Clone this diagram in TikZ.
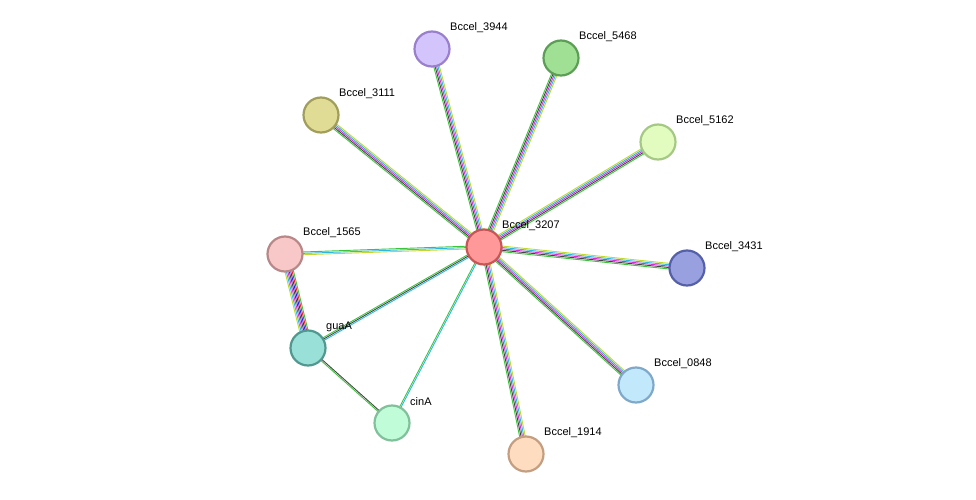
\documentclass[tikz,border=0pt]{standalone}
\usepackage{fontspec}
\setmainfont{Liberation Sans}
\usetikzlibrary{calc}
\definecolor{eG}{HTML}{3CC43C}
\definecolor{eK}{HTML}{444444}
\definecolor{eM}{HTML}{D62DD6}
\definecolor{eC}{HTML}{2DB8E0}
\definecolor{eY}{HTML}{C0D830}
\definecolor{eR}{HTML}{F02020}
\definecolor{eB}{HTML}{2020F0}
\newcommand{\stredge}[3]{%
  \foreach \col [count=\i] in {#3} {\xdef\ncol{\i}}%
  \foreach \col [count=\i] in {#3} {%
    \pgfmathsetmacro{\off}{(\i-(\ncol+1)/2)*1.4}%
    \draw[line width=0.9pt,draw=\col] ($(#1)!\off pt!90:(#2)$) -- ($(#2)!\off pt!-90:(#1)$);}}
\begin{document}
\begin{tikzpicture}[x=1pt,y=-1pt,
  prot/.style={circle,minimum size=35pt,inner sep=0pt,line width=2.2pt},
  lab/.style={anchor=west,font=\fontsize{11}{12}\selectfont,inner sep=0pt}]
\useasboundingbox (0,0) rectangle (976,500);
\coordinate (p3207) at (484,247);
\coordinate (p3944) at (432,49);
\coordinate (p5468) at (561,58);
\coordinate (p3111) at (321,115);
\coordinate (p5162) at (658,142);
\coordinate (p3431) at (687,268);
\coordinate (p0848) at (636,385);
\coordinate (p1914) at (526,454);
\coordinate (pcin) at (392,423);
\coordinate (pgua) at (308,348);
\coordinate (p1565) at (285,254);
\stredge{p3944}{p3207}{eG,eK,eM,eC,eY}
\stredge{p5468}{p3207}{eG,eK,eM,eC,eY}
\stredge{p3111}{p3207}{eG,eK,eM,eC,eY}
\stredge{p3207}{p5162}{eG,eK,eM,eC,eY}
\stredge{p3207}{p3431}{eG,eK,eM,eC,eY}
\stredge{p3207}{p0848}{eG,eK,eM,eC,eY}
\stredge{p3207}{p1914}{eG,eK,eM,eC,eY}
\stredge{p3207}{p1565}{eG,eC,eY}
\stredge{p3207}{pgua}{eG,eK,eC}
\stredge{p3207}{pcin}{eG,eC}
\stredge{p1565}{pgua}{eY,eC,eM,eK,eB,eR,eG}
\stredge{pgua}{pcin}{eG,eK}
\node[prot,fill={rgb,255:red,255;green,153;blue,153},draw={rgb,255:red,200;green,85;blue,85}] (n3207) at (p3207) {};
\node[prot,fill={rgb,255:red,212;green,196;blue,252},draw={rgb,255:red,154;green,128;blue,204}] (n3944) at (p3944) {};
\node[prot,fill={rgb,255:red,160;green,224;blue,149},draw={rgb,255:red,92;green,158;blue,85}] (n5468) at (p5468) {};
\node[prot,fill={rgb,255:red,224;green,220;blue,150},draw={rgb,255:red,160;green,158;blue,90}] (n3111) at (p3111) {};
\node[prot,fill={rgb,255:red,226;green,252;blue,192},draw={rgb,255:red,165;green,201;blue,133}] (n5162) at (p5162) {};
\node[prot,fill={rgb,255:red,152;green,160;blue,224},draw={rgb,255:red,85;green,96;blue,168}] (n3431) at (p3431) {};
\node[prot,fill={rgb,255:red,194;green,232;blue,252},draw={rgb,255:red,128;green,168;blue,200}] (n0848) at (p0848) {};
\node[prot,fill={rgb,255:red,253;green,220;blue,191},draw={rgb,255:red,196;green,158;blue,128}] (n1914) at (p1914) {};
\node[prot,fill={rgb,255:red,192;green,252;blue,216},draw={rgb,255:red,128;green,192;blue,154}] (ncin) at (pcin) {};
\node[prot,fill={rgb,255:red,152;green,224;blue,216},draw={rgb,255:red,80;green,152;blue,144}] (ngua) at (pgua) {};
\node[prot,fill={rgb,255:red,248;green,200;blue,200},draw={rgb,255:red,184;green,136;blue,136}] (n1565) at (p1565) {};
\node[lab] (l3207) at ($(p3207)+(18,-21)$) {Bccel\_3207};
\node[lab] (l3944) at ($(p3944)+(18,-21)$) {Bccel\_3944};
\node[lab] (l5468) at ($(p5468)+(18,-21)$) {Bccel\_5468};
\node[lab] (l3111) at ($(p3111)+(18,-21)$) {Bccel\_3111};
\node[lab] (l5162) at ($(p5162)+(18,-21)$) {Bccel\_5162};
\node[lab] (l3431) at ($(p3431)+(18,-21)$) {Bccel\_3431};
\node[lab] (l0848) at ($(p0848)+(18,-21)$) {Bccel\_0848};
\node[lab] (l1914) at ($(p1914)+(18,-21)$) {Bccel\_1914};
\node[lab] (lcin) at ($(pcin)+(18,-21)$) {cinA};
\node[lab] (lgua) at ($(pgua)+(18,-21)$) {guaA};
\node[lab] (l1565) at ($(p1565)+(18,-21)$) {Bccel\_1565};
\end{tikzpicture}
\end{document}
